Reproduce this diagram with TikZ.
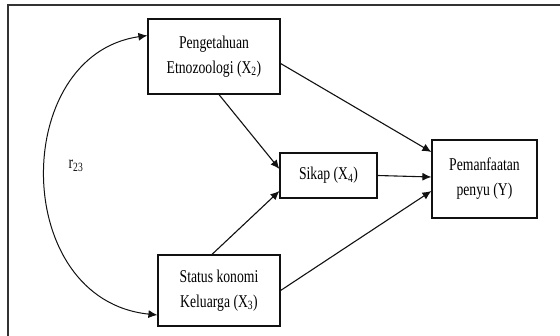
\documentclass[tikz,border=0pt]{standalone}
\usepackage{fontspec}
\setmainfont{Liberation Serif}[FakeStretch=0.76]
\usepackage{xcolor}
\usepackage{tikz}
\usetikzlibrary{calc,arrows.meta}
\definecolor{ink}{HTML}{111111}
\definecolor{rim}{HTML}{333333}
\tikzset{
  frame/.style={draw=rim, line width=1.4pt},
  box/.style={draw=ink, line width=1.2pt, align=center, inner sep=2pt,
    font=\fontsize{18}{25}\selectfont},
  link/.style={draw=ink, line width=1.1pt, -{Latex[length=9pt,width=8pt]}},
  corr/.style={draw=ink, line width=1.0pt, {Latex[length=9pt,width=8pt]}-{Latex[length=9pt,width=8pt]}},
  lab/.style={text=ink, font=\fontsize{18}{20}\selectfont},
}

\begin{document}
\begin{tikzpicture}[x=1pt,y=-1pt]
  \useasboundingbox (0,0) rectangle (560,336);
  \draw[frame] (560,5) -| (8,336);
  % boxes
  \node[box, minimum width=132pt, minimum height=75pt] (x2) at (214,56.5) {Pengetahuan\\Etnozoologi (X\textsubscript{2})};
  \node[box, minimum width=122pt, minimum height=71pt] (x3) at (219,290.5) {Status konomi\\Keluarga (X\textsubscript{3})};
  \node[box, minimum width=97pt, minimum height=45pt] (x4) at (328.5,175.5) {Sikap (X\textsubscript{4})};
  \node[box, minimum width=105pt, minimum height=78pt] (y) at (484.5,179) {Pemanfaatan\\penyu (Y)};
  \node[lab] (r23) at (76,166) {r\textsubscript{23}};
  % paths
  \draw[link] ($(x2.east)+(0,7)$) -- ($(y.west)+(0,-27)$);
  \draw[link] ($(x2.south)+(5,0)$) -- ($(x4.west)+(0,-6.5)$);
  \draw[link] (x4.east) -- ($(y.west)+(0,-2)$);
  \draw[link] ($(x3.north)+(-7,0)$) -- ($(x4.west)+(0,15.5)$);
  \draw[link] (x3.east) -- ($(y.west)+(0,12)$);
  \draw[corr] ($(x2.west)+(0,-21)$) .. controls (10,55) and (10,300) .. ($(x3.west)+(0,24.5)$);
\end{tikzpicture}
\end{document}
